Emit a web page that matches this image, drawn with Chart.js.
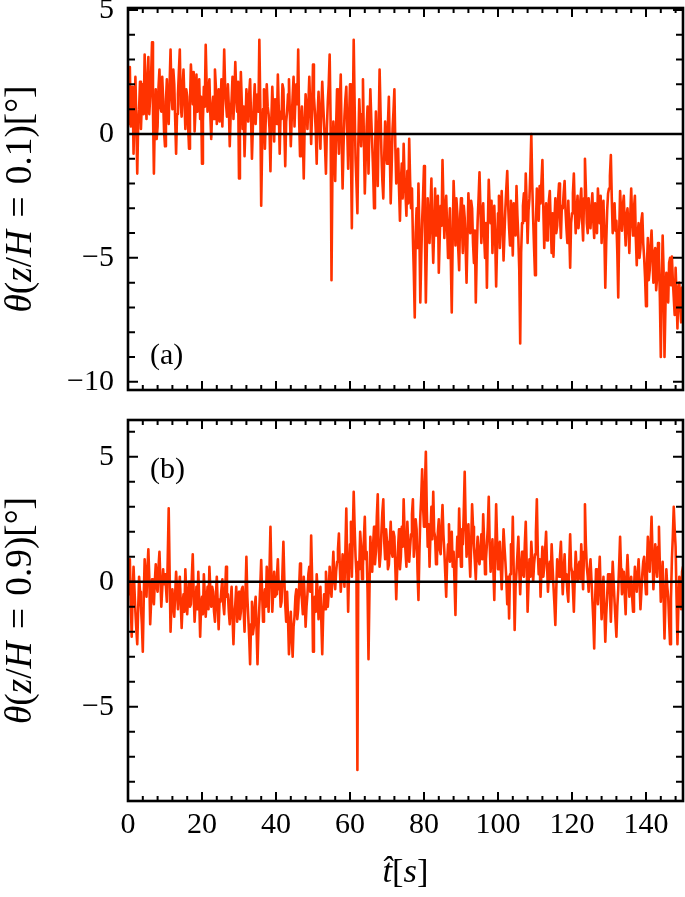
<!DOCTYPE html>
<html><head><meta charset="utf-8">
<script src="https://cdn.jsdelivr.net/npm/chart.js@4.4.1/dist/chart.umd.min.js"></script>
<style>
html,body{margin:0;padding:0;background:#fff;width:685px;height:897px;overflow:hidden}
canvas{position:absolute;left:0;display:block}
#ca{top:0}
#cb{top:400px}
</style></head><body>
<canvas id="ca" width="685" height="400"></canvas>
<canvas id="cb" width="685" height="497"></canvas>
<script>
// sampling interval of the time series [s]
const timeStep = 0.25;

// (a) theta at z/H = 0.1 [deg], t = 0 ... 150 s (one row = 5 s)
const thetaLow = [
 0.4, 1.1, 2.7, 0.3, 1.2, 1.9, -0.8, 0.9, 2.3, 0.5, -1.6, 0.4, 1.0, 2.1, 0.2, 1.3, 2.0, 0.8, 3.2, 1.6,
 0.6, 2.2, 3.1, 0.8, 1.5, 2.4, 3.7, 1.0, -1.6, 0.7, 1.8, -0.2, 0.3, 1.9, 2.6, 1.1, 0.9, 2.3, 1.4, 0.1,
 -0.5, 1.3, 2.2, 0.9, 0.4, 2.0, 3.4, 1.6, 1.0, 2.6, 2.0, 0.6, -0.8, 0.8, 1.6, 2.5, 3.4, 1.2, 0.7, 1.9,
 2.6, 1.4, 0.2, 1.8, 1.5, 0.3, -0.6, 1.2, 2.8, 2.0, 1.2, 2.5, 0.1, 1.0, 2.4, 0.9, 1.7, 2.2, 0.6, 1.5,
 -1.2, 0.5, 1.9, 1.1, 3.6, 2.0, 0.9, 1.7, 2.2, 0.8, -0.2, 1.0, 1.5, 0.6, 2.6, 1.9, 0.4, 1.2, 1.8, 0.5,
 1.0, 2.2, 0.3, 1.6, 3.4, 1.9, 1.2, 0.7, 2.0, 1.1, -0.5, 0.8, 1.4, 2.3, 0.6, 1.5, 2.9, 1.7, 0.9, 2.1,
 -1.8, 0.6, 2.5, 1.3, 0.2, 1.1, -0.9, 0.4, 1.8, 1.0, 0.5, 1.6, 2.2, 0.7, -1.0, 0.3, 1.2, 2.0, 0.4, 1.3,
 1.6, 0.9, 3.8, 1.2, -2.9, -0.5, 1.0, 1.8, -0.6, 0.7, 2.0, 1.1, 0.8, 0.2, -1.5, 0.6, 1.9, 0.8, -0.3, 1.4,
 1.2, 0.4, 2.4, 1.0, -0.8, 0.9, 0.6, 2.0, 1.8, 0.2, -1.3, 0.5, 0.9, 1.6, 2.2, 0.8, -0.5, 0.6, 1.5, 2.3,
 0.3, 1.4, 2.0, 1.2, 3.4, 0.6, -0.9, 0.5, 1.1, 0.0, -1.8, 0.4, 1.6, 1.0, 0.2, 1.2, 2.3, 1.1, -0.4, 0.9,
 2.8, 1.5, 0.9, 0.1, -1.2, 0.8, 1.7, 0.5, -0.6, 1.0, 2.1, 1.2, 0.4, -0.5, -1.6, 0.2, 1.3, 2.0, 3.2, 0.6,
 -5.9, -1.5, 0.5, -0.6, -1.9, 0.3, 1.8, 0.4, -0.8, 1.2, 2.4, -0.3, -2.2, -0.5, 0.7, 1.4, 1.9, 0.2, -1.4, 0.6,
 2.0, -0.6, -3.8, 0.4, 3.8, 1.2, -1.0, -2.0, -3.2, -0.4, 1.4, 0.5, -0.5, 0.8, 2.2, -0.2, -2.4, -1.0, 0.3, 1.1,
 -1.6, 0.2, 1.8, 0.6, -0.4, -1.5, -3.0, -1.0, 0.9, -0.6, -2.1, 0.3, 2.6, 0.9, -0.8, -1.9, -2.6, -0.9, 0.5, -0.7,
 -1.2, 0.4, 1.5, -0.6, -2.8, -1.4, 0.2, 0.9, 1.8, -0.5, -2.0, -1.1, -0.6, -2.2, -3.5, -1.9, -1.2, -2.6, -0.4, -1.8,
 -2.4, -3.3, -1.5, -2.8, -0.2, -1.9, -3.0, -2.2, -4.2, -5.6, -7.4, -4.0, -3.0, -4.6, -2.0, -3.9, -6.8, -5.0, -3.5, -2.5,
 -1.3, -4.0, -6.8, -4.7, -2.6, -3.5, -4.4, -3.0, -1.8, -3.9, -5.2, -3.8, -2.2, -4.1, -3.6, -2.5, -5.6, -4.2, -2.9, -3.7,
 -1.05, -2.8, -4.2, -3.1, -2.5, -3.8, -5.0, -4.0, -3.0, -5.1, -7.2, -4.3, -1.9, -3.0, -4.5, -2.6, -3.2, -4.6, -5.5, -3.4,
 -2.6, -3.7, -4.8, -2.9, -3.4, -4.5, -6.0, -4.2, -2.4, -3.3, -4.0, -2.7, -3.0, -4.4, -5.2, -3.9, -6.8, -4.9, -3.5, -2.6,
 -1.55, -3.0, -4.4, -3.2, -2.8, -4.1, -5.0, -3.6, -6.2, -3.8, -1.85, -2.9, -3.6, -2.7, -4.8, -3.5, -2.9, -4.3, -6.15, -4.5,
 -3.2, -2.5, -4.6, -3.4, -2.3, -3.7, -5.1, -4.0, -3.0, -2.2, -1.5, -2.9, -3.8, -4.5, -2.7, -3.6, -4.9, -2.8, -3.3, -4.1,
 -2.1, -3.3, -4.2, -5.5, -8.45, -4.8, -3.6, -2.9, -2.4, -3.5, -1.6, -2.8, -4.4, -3.1, -2.6, -1.5, 0.0, -2.0, -3.4, -4.6,
 -5.7, -3.6, -2.2, -3.1, -3.5, -2.1, -2.8, -1.9, -1.05, -3.0, -4.6, -3.4, -2.8, -4.3, -3.9, -2.7, -2.3, -3.6, -4.8, -3.2,
 -4.95, -3.5, -2.6, -4.0, -3.7, -2.6, -2.0, -3.3, -4.2, -2.9, -3.0, -2.4, -1.9, -3.1, -3.8, -4.4, -2.7, -3.9, -5.4, -3.6,
 -3.2, -2.4, -1.6, -3.0, -4.0, -3.1, -2.5, -3.8, -3.4, -2.7, -2.2, -3.5, -4.3, -2.6, -1.0, -2.2, -3.6, -4.0, -2.6, -3.3,
 -3.8, -3.0, -2.4, -3.5, -4.2, -2.8, -3.0, -4.0, -2.2, -2.9, -3.6, -2.5, -4.4, -3.3, -2.7, -4.1, -6.2, -4.4, -3.1, -2.4,
 -2.2, -1.7, -0.85, -2.6, -4.0, -3.2, -2.8, -3.9, -3.5, -4.8, -6.6, -4.0, -2.3, -3.1, -3.9, -2.9, -2.5, -3.6, -4.5, -3.3,
 -3.0, -3.8, -4.8, -3.3, -2.2, -3.4, -4.1, -3.0, -2.5, -4.2, -5.3, -4.0, -3.6, -5.0, -4.6, -3.5, -3.2, -4.4, -5.0, -5.8,
 -6.95, -5.3, -4.2, -5.9, -5.5, -4.5, -3.9, -5.0, -6.0, -4.8, -4.6, -6.3, -5.8, -4.4, -5.0, -6.6, -9.0, -6.2, -4.1, -5.5,
 -9.0, -7.0, -5.6, -6.4, -6.8, -5.2, -5.0, -6.1, -4.95, -5.9, -6.6, -7.3, -5.4, -6.5, -7.85, -6.3, -6.0, -7.0, -7.6, -6.2,
 -6.9
];

// (b) theta at z/H = 0.9 [deg], t = 0 ... 150 s (one row = 5 s)
const thetaHigh = [
 -0.5, 0.4, 0.9, -0.8, -2.2, -0.6, 0.6, -0.3, -1.2, -1.9, -2.5, -1.1, 0.2, -0.4, -1.0, -1.7, -2.8, -0.7, 0.9, 0.2,
 -0.6, 0.5, 1.3, 0.2, -1.7, -0.8, 0.1, -0.5, -0.9, 0.0, 0.7, -0.2, -0.4, 0.6, 1.2, 0.1, -1.0, -0.3, 0.5, -0.1,
 0.3, -0.2, -0.8, 1.0, 2.94, 0.4, -2.0, -0.9, -0.3, -1.0, -1.4, -0.5, 0.4, -0.3, -1.1, -0.4, 0.2, -0.8, -1.85, -0.9,
 -0.5, -1.2, 0.5, -0.4, -1.3, -0.6, 0.0, -1.0, -0.9, 0.2, 1.1, -0.5, -1.6, -0.9, -0.2, -1.1, 0.4, -0.7, -2.2, -1.0,
 -0.6, -1.3, 0.3, -0.5, -1.4, -0.8, -0.2, -1.1, 0.6, -0.3, -1.0, -0.2, -0.4, -1.2, -1.6, -0.6, 0.2, -0.9, -1.9, -0.7,
 -0.8, -0.3, 0.1, -0.9, -1.3, -0.4, 0.6, -0.6, -0.5, -1.2, -1.7, -0.8, -0.2, -1.4, -2.5, -1.3, -0.9, -0.2, -1.6, -0.8,
 -0.4, -1.5, -1.2, -0.3, -0.2, -1.1, -2.0, -0.5, 1.0, -0.6, -1.4, -2.2, -3.3, -1.7, -0.8, -2.1, -1.8, -1.0, -0.6, -1.9,
 -3.3, -1.9, -1.0, -0.2, 0.87, -0.5, -1.6, -0.8, -0.3, -1.0, 0.6, -0.2, -1.2, 0.5, 2.2, 0.3, -1.2, -0.4, 0.4, -0.6,
 -0.5, 0.2, 0.9, -0.3, 0.0, -1.0, -0.8, 0.4, 1.6, 0.1, -0.9, -1.6, -0.4, -1.5, -2.9, -2.0, -1.2, -2.2, -3.0, -1.8,
 -1.4, -0.6, -0.3, -1.5, -1.1, -0.2, 0.73, -0.4, -0.7, -1.3, 0.2, -0.6, -1.8, -1.0, -0.5, 0.3, 0.6, -0.4, 1.85, 0.2,
 -2.8, -1.4, -0.6, -1.2, 0.3, -0.4, -1.5, -0.7, -0.2, -1.6, -2.9, -1.3, -0.5, -1.1, 0.4, -0.3, -1.0, -0.4, 0.6, -0.2,
 -0.6, 0.3, 1.2, 0.1, -0.3, 0.4, 0.8, 1.3, 1.93, 0.6, -0.4, 0.2, 1.1, 0.4, -0.2, 1.2, 2.93, 0.8, -1.2, 0.5,
 1.5, 2.4, 0.2, 1.8, 3.6, 2.2, 1.0, 0.3, -7.53, 0.8, 0.5, 2.0, 1.4, 0.1, 0.6, 1.7, 2.6, 0.9, 1.2, -0.4,
 -3.1, -0.5, 1.8, 0.9, 0.4, 1.5, 2.2, 0.7, 1.2, 2.6, 3.5, 1.4, 0.6, 1.1, 2.0, 2.8, 3.3, 1.6, 0.9, 2.1,
 1.6, 0.5, 0.67, 1.5, 2.4, 1.2, 1.0, 2.0, 1.8, 0.6, -0.7, 0.5, 1.4, 2.1, 0.5, 1.0, 2.2, 1.4, 3.3, 2.0,
 1.2, 0.6, 2.4, 1.5, 0.8, 1.4, 1.9, 2.7, 3.3, 1.0, 1.5, 2.5, 2.1, 0.4, -0.73, 1.1, 2.6, 3.4, 4.5, 3.0,
 2.2, 3.8, 5.2, 2.9, 1.4, 2.3, 0.6, 1.9, 3.0, 1.7, 3.6, 2.0, 1.8, 0.7, 0.9, 2.0, 2.5, 1.3, 1.1, 2.2,
 3.07, 1.9, 1.2, 0.3, -0.6, 0.8, 1.5, 2.3, 0.8, 1.4, 2.0, 0.6, 1.2, 0.0, -1.33, 0.7, 1.8, 1.0, 2.93, 1.6,
 0.6, 2.1, 1.5, 2.8, 4.4, 2.4, 1.0, 1.6, 2.3, 1.1, 0.2, 1.5, 3.1, 2.2, 1.4, 0.8, 0.1, 1.2, 1.8, 0.9,
 0.7, 1.3, 1.9, 0.9, 2.7, 1.6, 0.3, 0.9, 1.5, 2.2, 3.4, 1.5, 0.4, 1.1, 1.7, 0.5, -0.73, 1.2, 3.1, 1.7,
 0.5, 1.2, 1.6, 0.6, -0.3, 0.9, 2.1, 1.4, 0.8, 0.1, -0.9, 0.2, -1.47, 0.3, 1.5, 0.7, 2.6, 0.4, -1.93, -0.2,
 0.4, 1.1, 1.8, 0.5, -0.5, 0.6, 1.2, 0.3, 0.2, 1.5, 2.4, 0.8, -1.2, -0.1, 0.9, 0.2, 1.6, 0.9, 0.0, 0.7,
 1.1, 2.0, 3.3, 1.2, 0.3, 0.9, -0.6, 0.5, 1.4, 0.2, 0.6, 1.3, 2.0, 0.7, -0.4, 0.3, 0.8, 0.1, 1.5, 0.6,
 -0.2, -0.9, -1.73, -0.3, 0.9, 0.4, 0.2, 1.0, 1.6, 0.5, -0.5, 0.4, 1.1, 0.0, 0.3, -0.4, -0.8, 0.7, 1.9, 0.6,
 0.4, -0.3, -1.2, 0.2, 1.2, 0.5, 0.0, 0.6, 0.8, 0.1, 1.5, 0.6, -0.3, 1.2, 3.1, 1.5, 0.6, 0.2, -0.4, 0.5,
 0.9, 0.1, -0.7, -1.5, -2.67, -0.8, 0.5, -0.2, -0.9, 0.2, 1.0, -0.4, -1.5, -0.6, 0.2, -1.1, -2.4, -1.3, -0.6, 0.3,
 0.3, -0.5, -1.6, -0.4, 0.8, 0.0, -0.8, -1.5, -2.2, -1.0, -0.3, 0.7, 1.8, 0.5, -0.5, -0.1, 0.4, -0.5, -1.3, 0.2,
 1.07, 0.2, -0.6, -0.1, 0.2, -0.6, -1.2, -0.3, 0.6, 0.1, -0.4, 0.3, 0.9, 0.0, -1.1, -0.4, 0.3, 0.8, 1.0, 0.1,
 -0.5, 0.6, 1.8, 1.0, 0.4, 1.5, 2.6, 1.2, -0.3, 0.5, 1.5, 0.7, 0.2, 1.4, 2.2, 0.6, -0.8, 0.0, 0.8, -0.6,
 -2.27, -0.8, 0.5, -0.2, -0.6, -1.6, -2.5, -0.7, 0.9, 1.8, 3.0, 2.1, 1.4, -0.6, -2.5, -1.0, 0.2, -0.5, -1.1, 0.4,
 0.6
];

// axis ticks
const xTickLabels = [0, 20, 40, 60, 80, 100, 120, 140];
const xMinorStep = 4;
const yTickLabelsA = [-10, -5, 0, 5];
const yTickLabelsB = [-5, 0, 5];
const yMinorStep = 1;
const xRange = [0, 150];
const yRangeA = [-10.33, 5.08];
const yRangeB = [-8.77, 6.47];

const panelLabels = ['(a)', '(b)'];
const yTitleA = [['θ','italic'],['(','normal'],['z','italic'],['/','normal'],['H','italic'],['\u2004=\u20040.1)[°]','normal']];
const yTitleB = [['θ','italic'],['(','normal'],['z','italic'],['/','normal'],['H','italic'],['\u2004=\u20040.9)[°]','normal']];
const xTitle = [['t\u0302','italic'],['[','normal'],['s','italic'],[']','normal']];

const FONT = '"Liberation Serif", "DejaVu Serif", serif';
const RED = '#ff3300';

function toPoints(arr){ return arr.map((v,i)=>({x: i*timeStep, y: v})); }
function fmt(v){ return v < 0 ? '\u2212' + Math.abs(v) : String(v); }

function drawRich(ctx, segs, cx, cy, size, rotate, targetWidth){
  ctx.save();
  ctx.translate(cx, cy);
  if (rotate) ctx.rotate(-Math.PI/2);
  ctx.textBaseline = 'middle';
  ctx.textAlign = 'left';
  ctx.fillStyle = '#000';
  const measure = sz => segs.map(([t, st]) => { ctx.font = st + ' ' + sz + 'px ' + FONT; return ctx.measureText(t).width; });
  let widths = measure(size);
  let total = widths.reduce((a,b)=>a+b,0);
  if (targetWidth){ size = size * targetWidth / total; widths = measure(size); total = widths.reduce((a,b)=>a+b,0); }
  let x = -total/2;
  segs.forEach(([t, st], i) => { ctx.font = st + ' ' + size + 'px ' + FONT; ctx.fillText(t, x, 0); x += widths[i]; });
  ctx.restore();
}

const framePlugin = {
  id: 'frame',
  afterDatasetsDraw(chart, args, opts){
    const {ctx, chartArea: {left, right, top, bottom}, scales: {x, y}} = chart;
    ctx.save();
    ctx.strokeStyle = '#000';
    // zero reference line
    const y0 = y.getPixelForValue(0);
    ctx.lineWidth = 2.4;
    ctx.beginPath(); ctx.moveTo(left, y0); ctx.lineTo(right, y0); ctx.stroke();
    // inward ticks on all four sides
    ctx.lineWidth = 2;
    ctx.beginPath();
    for (let v = xRange[0]; v <= xRange[1] + 1e-9; v += xMinorStep){
      const major = xTickLabels.includes(v);
      const len = major ? 9 : 5;
      const px = x.getPixelForValue(v);
      ctx.moveTo(px, bottom); ctx.lineTo(px, bottom - len);
      ctx.moveTo(px, top); ctx.lineTo(px, top + len);
    }
    const yl = opts.yLabels;
    for (let v = Math.ceil(y.min); v <= y.max; v += yMinorStep){
      const major = yl.includes(v);
      const len = major ? 10 : 7;
      const py = y.getPixelForValue(v);
      ctx.moveTo(left, py); ctx.lineTo(left + len, py);
      ctx.moveTo(right, py); ctx.lineTo(right - len, py);
    }
    ctx.stroke();
    // frame
    ctx.lineWidth = 2.6;
    ctx.strokeRect(left, top, right - left, bottom - top);
    // panel label
    ctx.fillStyle = '#000';
    ctx.font = '30px ' + FONT;
    ctx.textBaseline = 'middle';
    ctx.textAlign = 'left';
    const ly = opts.labelAtBottom ? bottom - 34 : top + 50;
    ctx.fillText(opts.label, left + 22, ly);
    ctx.restore();
    // axis titles
    drawRich(ctx, opts.yTitle, 21, (top + bottom)/2, 33, true, 227);
    if (opts.xTitle) drawRich(ctx, opts.xTitle, (left + right)/2, opts.xTitleY, 34, false, 46);
  }
};

function noPad(s){ s.paddingTop = 0; s.paddingBottom = 0; s.paddingLeft = 0; s.paddingRight = 0; }

function makeChart(id, data, yRange, yLabels, showXLabels, xHeight, pad, extra){
  return new Chart(document.getElementById(id), {
    type: 'line',
    data: { datasets: [{ data: toPoints(data), borderColor: RED, borderWidth: 2.6, pointRadius: 0,
      tension: 0, fill: false, borderJoinStyle: 'round', borderCapStyle: 'round' }] },
    options: {
      responsive: false, maintainAspectRatio: false, animation: false, devicePixelRatio: 1,
      layout: { padding: pad },
      plugins: { legend: { display: false }, tooltip: { enabled: false }, frame: extra },
      scales: {
        x: {
          type: 'linear', min: xRange[0], max: xRange[1],
          afterBuildTicks: s => { s.ticks = xTickLabels.map(v => ({value: v})); },
          afterFit: s => { s.height = xHeight; noPad(s); },
          grid: { display: false, drawTicks: false }, border: { display: false },
          ticks: { display: showXLabels, color: '#000', font: { family: FONT, size: 30 }, padding: 6, maxRotation: 0, autoSkip: false, callback: v => fmt(v) }
        },
        y: {
          min: yRange[0], max: yRange[1],
          afterBuildTicks: s => { s.ticks = yLabels.map(v => ({value: v})); },
          afterFit: s => { s.width = 128; noPad(s); },
          grid: { display: false, drawTicks: false }, border: { display: false },
          ticks: { color: '#000', font: { family: FONT, size: 30 }, padding: 14, callback: v => fmt(v) }
        }
      }
    },
    plugins: [framePlugin]
  });
}

makeChart('ca', thetaLow, yRangeA, yTickLabelsA, false, 10, {left: 0, right: 2, top: 8, bottom: 0},
  { yLabels: yTickLabelsA, label: panelLabels[0], labelAtBottom: true, yTitle: yTitleA });
makeChart('cb', thetaHigh, yRangeB, yTickLabelsB, true, 96, {left: 0, right: 2, top: 20, bottom: 0},
  { yLabels: yTickLabelsB, label: panelLabels[1], labelAtBottom: false, yTitle: yTitleB, xTitle: xTitle, xTitleY: 473 });
</script>
</body></html>
